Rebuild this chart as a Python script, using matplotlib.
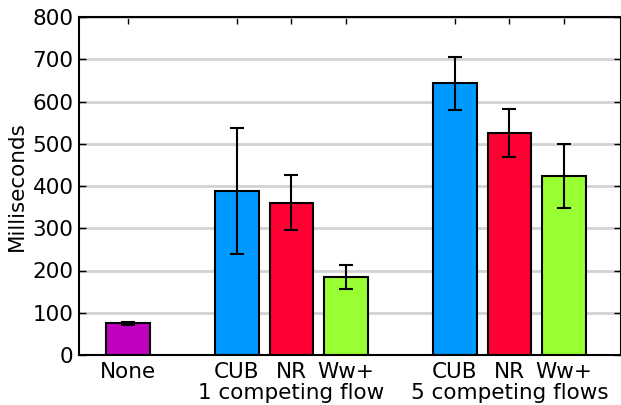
import numpy as np
import matplotlib
matplotlib.use("Agg")
import matplotlib.pyplot as plt
import matplotlib.transforms as mtransforms

labels = ["None", "CUB", "NR", "Ww+", "CUB", "NR", "Ww+"]
positions = [0, 2, 3, 4, 6, 7, 8]
values = [75, 388, 360, 185, 643, 525, 424]
err_low = [72, 239, 296, 156, 580, 468, 348]
err_high = [79, 537, 427, 214, 705, 583, 499]
colors = ["#c000c0", "#0099ff", "#ff0033", "#99ff33", "#0099ff", "#ff0033", "#99ff33"]
group_names = ["1 competing flow", "5 competing flows"]
group_centers = [3, 7]

vals = np.array(values)
yerr = np.array([vals - np.array(err_low), np.array(err_high) - vals])

fs = 15.5
fig = plt.figure(figsize=(6.21, 4.05), dpi=100)
ax = fig.add_axes([79/621, 50/405, 1 - 79/621, 338/405])

ax.yaxis.grid(True, color="#d3d3d3", linewidth=2)
ax.set_axisbelow(True)
ax.bar(positions, values, width=0.8, color=colors, edgecolor="black", linewidth=1.5,
       yerr=yerr, error_kw=dict(ecolor="black", elinewidth=1.5, capsize=5, capthick=1.5))

ax.set_xlim(-0.9, 9.05)
ax.set_ylim(0, 800)
ax.set_yticks(range(0, 801, 100))
ax.set_xticks(positions)
ax.set_xticklabels(labels)
ax.tick_params(direction="in", length=5, width=1, labelsize=fs, top=True, right=True)
ax.tick_params(axis="y", pad=4)
ax.tick_params(axis="x", pad=5)
for s in ax.spines.values():
    s.set_linewidth(1.5)
ax.set_ylabel("Milliseconds", fontsize=fs, labelpad=4)

trans = mtransforms.blended_transform_factory(ax.transData, ax.transAxes)
for name, c in zip(group_names, group_centers):
    ax.text(c, -28/338, name, transform=trans, ha="center", va="top", fontsize=fs)

plt.savefig("out.png", dpi=100)
